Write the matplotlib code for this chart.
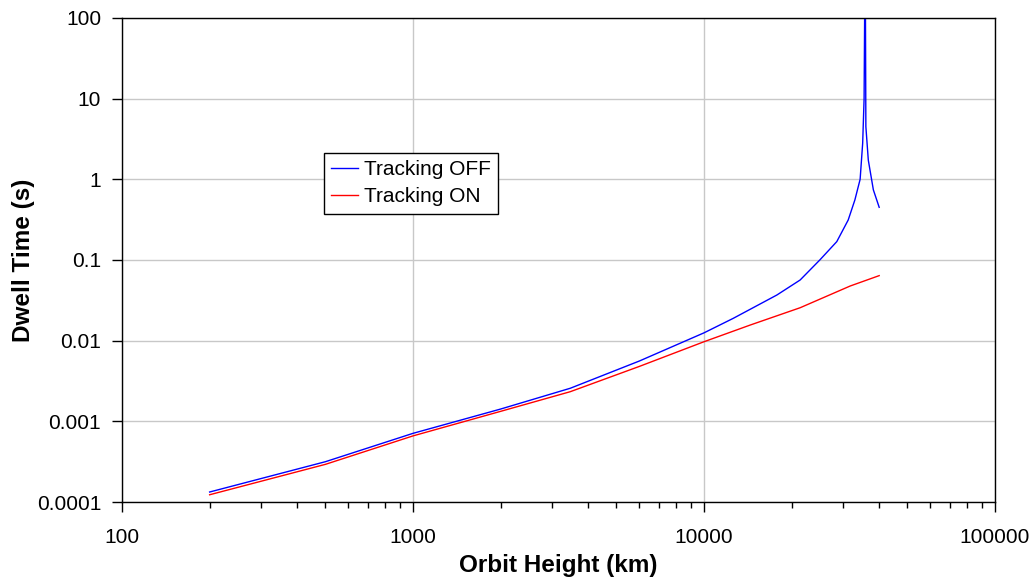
import numpy as np
import matplotlib.pyplot as plt
from matplotlib.ticker import FixedLocator, FixedFormatter, LogLocator, NullFormatter

# tracking OFF (blue)
height_off = [200, 500, 1000, 2000, 3470, 6000, 10000, 12600, 17800, 21400, 25000,
              28600, 31300, 33000, 34400, 35100, 35500, 35800, 36000, 36700, 38200, 40000]
dwell_off = [1.33e-4, 3.16e-4, 7.1e-4, 1.42e-3, 2.57e-3, 5.6e-3, 0.0125, 0.0189, 0.0368,
             0.0565, 0.1, 0.169, 0.313, 0.555, 1.0, 2.8, 10, 1000, 4.5, 1.73, 0.74, 0.45]

# tracking ON (red)
height_on = [200, 500, 1000, 2000, 3470, 6000, 10000, 14400, 21400, 31800, 40000]
dwell_on = [1.23e-4, 2.93e-4, 6.6e-4, 1.33e-3, 2.33e-3, 4.8e-3, 0.0097, 0.0156, 0.0256,
            0.0476, 0.064]

x_ticks = [100, 1000, 10000, 100000]
x_labels = ["100", "1000", "10000", "100000"]
y_ticks = [0.0001, 0.001, 0.01, 0.1, 1, 10, 100]
y_labels = ["0.0001", "0.001", "0.01", "0.1", "1", "10", "100"]


def draw():
    plt.rcParams['font.family'] = ['Liberation Sans', 'DejaVu Sans']
    fig = plt.figure(figsize=[10.36, 5.84], dpi=100)
    ax = fig.add_axes([0.1178, 0.1404, 0.8426, 0.8288])

    ax.plot(height_off, dwell_off, color="#0000ff", lw=1.0, label="Tracking OFF")
    ax.plot(height_on, dwell_on, color="#ff0000", lw=1.0, label="Tracking ON")

    ax.set_xscale("log")
    ax.set_yscale("log")
    ax.set_xlim(100, 100000)
    ax.set_ylim(0.0001, 100)

    ax.xaxis.set_major_locator(FixedLocator(x_ticks))
    ax.xaxis.set_major_formatter(FixedFormatter(x_labels))
    ax.xaxis.set_minor_locator(LogLocator(base=10, subs=np.arange(2, 10)))
    ax.xaxis.set_minor_formatter(NullFormatter())
    ax.yaxis.set_major_locator(FixedLocator(y_ticks))
    ax.yaxis.set_major_formatter(FixedFormatter(y_labels))
    ax.yaxis.set_minor_locator(FixedLocator([]))

    ax.tick_params(axis="x", which="major", length=7, width=1, pad=12, labelsize=15)
    ax.tick_params(axis="x", which="minor", length=4, width=1)
    ax.tick_params(axis="y", which="major", length=7, width=1, pad=8, labelsize=15)

    ax.grid(True, which="major", color="#c8c8c8", lw=1.0)
    ax.set_axisbelow(True)
    for s in ax.spines.values():
        s.set_color("black")
        s.set_linewidth(1.0)

    ax.set_xlabel("Orbit Height (km)", fontsize=17.5, fontweight="bold", labelpad=5)
    ax.set_ylabel("Dwell Time (s)", fontsize=17.5, fontweight="bold", labelpad=1)

    leg = ax.legend(loc="upper left", bbox_to_anchor=(0.2314, 0.7217), borderaxespad=0,
                    fontsize=15, handlelength=1.3, handletextpad=0.25, fancybox=False,
                    framealpha=1, edgecolor="black", borderpad=0.35, labelspacing=0.4)
    leg.get_frame().set_linewidth(1.0)

    fig.savefig("out.png", dpi=100)


if __name__ == '__main__':
    draw()
